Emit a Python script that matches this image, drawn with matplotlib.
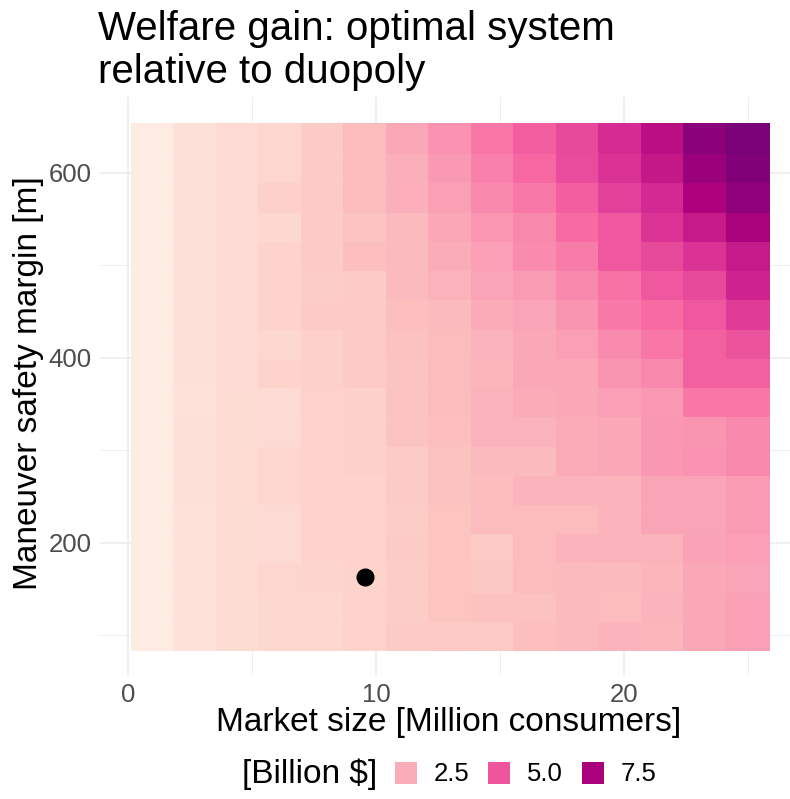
import numpy as np
import matplotlib
matplotlib.use("Agg")
import matplotlib.pyplot as plt
from matplotlib.colors import LinearSegmentedColormap, Normalize
from matplotlib.patches import Rectangle

plt.rcParams['font.family'] = ['Liberation Sans', 'DejaVu Sans']

# ---- data ----
market_size = [1.0, 2.714, 4.429, 6.143, 7.857, 9.571, 11.286, 13.0,
               14.714, 16.429, 18.143, 19.857, 21.571, 23.286, 25.0]
safety_margin = [100.0, 131.6, 163.2, 194.8, 226.4, 257.9, 289.5, 321.1, 352.7,
                 384.3, 415.9, 447.5, 479.1, 510.6, 542.2, 573.8, 605.4, 637.0]
# welfare gain [Billion $]; rows = safety margin (bottom -> top), cols = market size
welfare_gain = [
    [0.10, 0.45, 0.69, 0.84, 0.84, 1.04, 1.34, 1.40, 1.38, 1.78, 2.01, 2.20, 2.17, 2.71, 2.98],
    [0.10, 0.45, 0.69, 0.84, 0.84, 1.04, 1.27, 1.54, 1.70, 1.70, 2.01, 1.93, 2.20, 2.71, 2.98],
    [0.10, 0.45, 0.69, 0.92, 0.96, 1.04, 1.27, 1.54, 1.46, 1.93, 2.01, 2.01, 2.17, 2.71, 2.79],
    [0.10, 0.45, 0.69, 0.76, 1.04, 1.04, 1.34, 1.58, 1.38, 1.93, 2.20, 2.28, 2.28, 2.90, 3.02],
    [0.10, 0.45, 0.69, 0.72, 1.04, 1.04, 1.27, 1.58, 1.93, 1.93, 1.93, 2.24, 2.79, 2.79, 3.12],
    [0.12, 0.49, 0.69, 0.92, 1.04, 1.04, 1.34, 1.70, 1.89, 2.24, 2.24, 2.24, 2.79, 2.79, 3.12],
    [0.12, 0.49, 0.69, 0.92, 1.04, 1.15, 1.34, 1.70, 2.01, 2.01, 2.59, 2.67, 3.23, 3.34, 3.63],
    [0.12, 0.49, 0.69, 0.72, 1.04, 1.15, 1.62, 1.78, 2.28, 2.28, 2.59, 2.71, 3.23, 3.29, 3.63],
    [0.10, 0.45, 0.69, 0.72, 1.08, 1.15, 1.62, 1.93, 2.28, 2.59, 2.67, 3.02, 3.18, 4.07, 4.07],
    [0.10, 0.49, 0.76, 1.04, 1.15, 1.34, 1.62, 1.93, 2.17, 2.67, 2.71, 3.29, 3.63, 4.69, 4.69],
    [0.10, 0.49, 0.76, 0.84, 1.15, 1.34, 1.70, 1.93, 2.28, 2.67, 3.02, 3.53, 4.07, 4.69, 5.09],
    [0.10, 0.49, 0.76, 1.04, 1.34, 1.34, 1.78, 2.01, 2.59, 2.79, 3.29, 4.04, 4.39, 4.92, 5.72],
    [0.10, 0.49, 0.76, 1.04, 1.27, 1.34, 2.01, 2.32, 2.79, 3.12, 3.63, 4.23, 4.95, 5.35, 6.40],
    [0.10, 0.49, 0.76, 1.04, 1.34, 1.78, 2.01, 2.51, 3.02, 3.53, 3.96, 4.92, 5.35, 6.00, 6.69],
    [0.10, 0.49, 0.76, 0.84, 1.34, 1.62, 2.01, 2.67, 3.26, 3.63, 4.39, 4.92, 5.97, 6.69, 7.50],
    [0.10, 0.49, 0.76, 1.15, 1.34, 1.93, 2.40, 2.98, 3.63, 4.01, 4.78, 5.58, 6.23, 7.40, 8.25],
    [0.10, 0.49, 0.76, 0.92, 1.34, 1.93, 2.40, 3.18, 3.85, 4.50, 5.23, 6.00, 6.72, 7.96, 8.65],
    [0.10, 0.49, 0.76, 0.92, 1.34, 1.93, 2.67, 3.34, 4.07, 4.78, 5.35, 6.17, 7.01, 8.36, 8.85],
]
current_point_x = [9.571]
current_point_y = [163.2]
legend_breaks = [2.5, 5.0, 7.5]
legend_labels = ["2.5", "5.0", "7.5"]
x_ticks = [0, 10, 20]
y_ticks = [200, 400, 600]

# ---- style ----
W, H = 790, 799
fig = plt.figure(figsize=(W / 100, H / 100), dpi=100)

def fx(px):
    return px / W

def fy(py):
    return 1 - py / H

rdpu7 = ["#FEEBE2", "#FCC5C0", "#FA9FB5", "#F768A1", "#DD3497", "#AE017E", "#7A0177"]
cmap = LinearSegmentedColormap.from_list("rdpu7", rdpu7)
Z = np.array(welfare_gain)
norm = Normalize(vmin=Z.min(), vmax=Z.max())

ax = fig.add_axes([fx(100), fy(675), fx(790) - fx(100), fy(97) - fy(675)])
ax.set_xlim(-1.13, 26.69)
ax.set_ylim(57.3, 682)
for s in ax.spines.values():
    s.set_visible(False)

ax.set_xticks(x_ticks)
ax.set_yticks(y_ticks)
ax.set_xticks([5, 15, 25], minor=True)
ax.set_yticks([100, 300, 500], minor=True)
ax.grid(which='major', color='#EBEBEB', linewidth=1.1)
ax.grid(which='minor', color='#EBEBEB', linewidth=0.55)
ax.set_axisbelow(True)
ax.tick_params(which='both', length=0)
ax.tick_params(axis='both', which='major', labelsize=18.5, labelcolor='#4D4D4D', pad=6)

ax.pcolormesh(market_size, safety_margin, Z, cmap=cmap, norm=norm,
              shading='nearest', zorder=2, edgecolors='face', linewidth=0.3)
ax.plot(current_point_x, current_point_y, 'o', color='black', ms=12, zorder=3)

fig.text(fx(98), fy(9.5), "Welfare gain: optimal system\nrelative to duopoly",
         ha='left', va='top', fontsize=29, linespacing=1.17)
fig.text(fx(449), fy(723), "Market size [Million consumers]",
         ha='center', va='center', fontsize=24)
fig.text(fx(29), fy(383), "Maneuver safety margin [m]",
         ha='center', va='center', fontsize=24, rotation=90)

# legend
fig.text(fx(377), fy(774), "[Billion $]", ha='right', va='center', fontsize=24)
key_left = [395, 488, 582]
for kx, b, lab in zip(key_left, legend_breaks, legend_labels):
    fig.patches.append(Rectangle((fx(kx), fy(784)), fx(22), fy(762) - fy(784),
                                 transform=fig.transFigure, facecolor=cmap(norm(b)),
                                 edgecolor='none'))
    fig.text(fx(kx + 39), fy(774), lab, ha='left', va='center', fontsize=18.5)

fig.savefig("out.png", dpi=100)
